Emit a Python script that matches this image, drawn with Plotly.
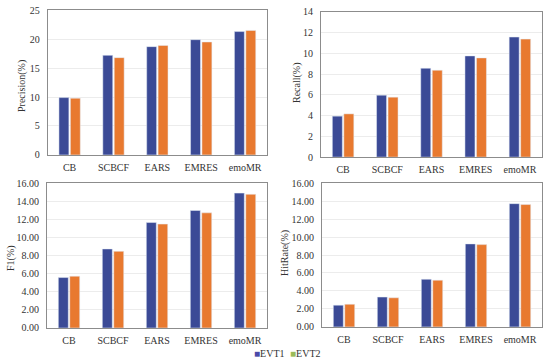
import plotly.graph_objects as go
from plotly.subplots import make_subplots

categories = ["CB", "SCBCF", "EARS", "EMRES", "emoMR"]
precision_evt1 = [9.9, 17.2, 18.7, 19.9, 21.3]
precision_evt2 = [9.8, 16.8, 18.9, 19.5, 21.5]
recall_evt1 = [3.95, 5.97, 8.57, 9.76, 11.58]
recall_evt2 = [4.17, 5.78, 8.38, 9.57, 11.38]
f1_evt1 = [5.57, 8.73, 11.65, 12.98, 14.9]
f1_evt2 = [5.72, 8.47, 11.48, 12.72, 14.77]
hit_evt1 = [2.42, 3.32, 5.3, 9.24, 13.72]
hit_evt2 = [2.52, 3.24, 5.2, 9.16, 13.62]
series_names = ["EVT1", "EVT2"]
y_titles = ["Precision(%)", "Recall(%)", "F1(%)", "HitRate(%)"]

panels = [
    (precision_evt1, precision_evt2, [0, 25], 5, None),
    (recall_evt1, recall_evt2, [0, 14], 2, None),
    (f1_evt1, f1_evt2, [0, 16], 2, ".2f"),
    (hit_evt1, hit_evt2, [0, 16], 2, ".2f"),
]

C1 = "#3b4a96"
C2 = "#e8792f"
L1 = "#4b4aa8"
L2 = "#9bbb59"
FONT = "Liberation Serif"
TXT = "#333333"
W, H = 550, 362

fig = make_subplots(rows=2, cols=2)
domains = [
    ([0.0867, 0.4855], [0.572, 0.972]),
    ([0.5836, 0.9855], [0.566, 0.967]),
    ([0.0855, 0.4855], [0.094, 0.494]),
    ([0.5855, 0.9855], [0.097, 0.494]),
]
title_pos = [(22, 86), (297, 83), (11, 258), (285, 253)]
for i, (a, b, rng, dt, fmt) in enumerate(panels):
    r, c = i // 2 + 1, i % 2 + 1
    fig.add_trace(go.Bar(x=categories, y=a, name=series_names[0], marker_color=C1, showlegend=False), row=r, col=c)
    fig.add_trace(go.Bar(x=categories, y=b, name=series_names[1], marker_color=C2, showlegend=False), row=r, col=c)
    xd, yd = domains[i]
    sfx = "" if i == 0 else str(i + 1)
    fig.layout["xaxis" + sfx].update(domain=xd, showline=True, mirror=True, linecolor="#8c8c8c",
                                     linewidth=1, tickfont=dict(size=10, family=FONT, color=TXT),
                                     ticks="", automargin=False, ticklabelstandoff=3)
    fig.layout["yaxis" + sfx].update(domain=yd, range=rng, dtick=dt, tickformat=fmt,
                                     showline=True, mirror=True, linecolor="#8c8c8c", linewidth=1,
                                     gridcolor="#ececec", zeroline=False, automargin=False,
                                     ticklabelstandoff=5,
                                     tickfont=dict(size=10, family=FONT, color=TXT))
    tx, ty = title_pos[i]
    fig.add_annotation(x=tx / W, y=1 - ty / H, xref="paper", yref="paper", textangle=-90,
                       xanchor="center", yanchor="middle", showarrow=False, text=y_titles[i],
                       font=dict(size=10, family=FONT, color=TXT))

# legend drawn as text annotations (compact Excel-style)
for name, col, xpx in [(series_names[0], L1, 252), (series_names[1], L2, 288)]:
    fig.add_annotation(x=xpx / W, y=1 - 353 / H, xref="paper", yref="paper",
                       xanchor="left", yanchor="middle", showarrow=False,
                       text=f"<span style='color:{col};font-size:10px'>■</span>{name}",
                       font=dict(size=10, family=FONT, color=TXT))

fig.update_layout(
    width=W, height=H,
    margin=dict(l=0, r=0, t=0, b=0),
    paper_bgcolor="white", plot_bgcolor="white",
    barmode="group", bargap=0.48, bargroupgap=0.13,
    font=dict(family=FONT, color=TXT),
    showlegend=False,
)
fig.write_html("out.html", post_script="document.body.style.margin='0';",
               config={"displayModeBar": False})
